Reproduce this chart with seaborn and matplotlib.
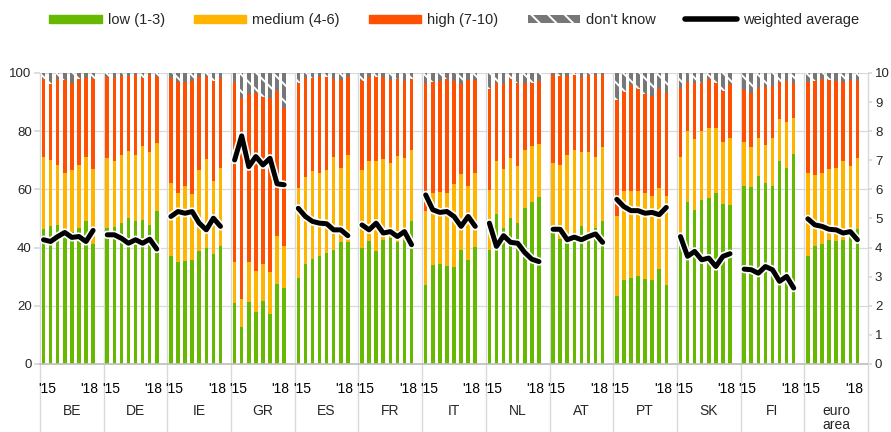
import numpy as np
import pandas as pd
import matplotlib
matplotlib.use("Agg")
import matplotlib.pyplot as plt
import matplotlib.patheffects as pe
from matplotlib.patches import Patch
from matplotlib.lines import Line2D
import seaborn as sns

sns.set_theme(style="white")
plt.rcParams['font.family'] = ['Liberation Sans', 'DejaVu Sans']
plt.rcParams['hatch.linewidth'] = 1.4
FS = 9.5

# data: semi-annual 2015H1 .. 2018H2, shares in % (cumulative tops) and weighted average (0-10)
countries = ['BE', 'DE', 'IE', 'GR', 'ES', 'FR', 'IT', 'NL', 'AT', 'PT', 'SK', 'FI', 'euro\narea']
periods = ['15H1', '15H2', '16H1', '16H2', '17H1', '17H2', '18H1', '18H2']

low = [
    [46.3, 47.3, 47.6, 45.5, 45.4, 46.9, 49.0, 41.2],
    [46.7, 47.0, 48.4, 50.0, 49.3, 49.5, 47.6, 52.7],
    [37.0, 35.0, 35.5, 35.6, 39.0, 40.0, 37.8, 40.7],
    [20.9, 12.7, 21.2, 17.8, 21.8, 17.3, 27.5, 26.0],
    [29.5, 34.4, 36.2, 37.0, 38.1, 39.2, 41.8, 41.9],
    [40.0, 42.1, 39.0, 42.7, 43.2, 41.8, 42.7, 49.3],
    [27.2, 33.9, 34.3, 33.8, 33.3, 39.2, 35.6, 40.2],
    [39.2, 51.4, 46.6, 50.0, 48.4, 53.5, 55.7, 57.3],
    [45.2, 43.0, 44.2, 43.6, 47.3, 45.0, 46.7, 49.0],
    [23.5, 28.7, 29.7, 30.4, 29.3, 28.7, 32.6, 27.2],
    [44.4, 55.5, 53.0, 56.4, 56.9, 58.7, 55.0, 54.7],
    [61.3, 60.8, 64.6, 62.1, 61.0, 69.8, 67.3, 72.2],
    [37.2, 40.7, 41.2, 42.7, 42.3, 42.7, 44.0, 46.5],
]
# low + medium
low_medium = [
    [71.1, 70.0, 68.5, 65.8, 66.7, 68.4, 71.2, 67.0],
    [70.7, 69.6, 71.9, 73.3, 71.9, 74.9, 73.0, 76.1],
    [62.1, 58.9, 61.0, 58.4, 66.7, 70.4, 63.0, 67.5],
    [35.2, 22.3, 35.2, 31.8, 34.4, 31.5, 44.1, 40.6],
    [60.6, 64.4, 66.4, 65.6, 66.7, 71.3, 67.5, 71.9],
    [66.7, 69.9, 69.8, 70.4, 69.0, 71.5, 70.7, 73.6],
    [52.6, 58.9, 59.2, 58.9, 61.9, 65.2, 61.2, 65.6],
    [59.8, 69.6, 66.9, 70.7, 68.1, 73.6, 74.9, 75.6],
    [69.2, 68.4, 71.9, 73.6, 73.0, 72.7, 71.3, 74.5],
    [50.9, 59.6, 59.6, 59.6, 58.9, 57.6, 60.4, 57.6],
    [71.3, 79.9, 77.3, 80.1, 81.0, 81.0, 76.4, 77.6],
    [76.2, 74.7, 77.6, 75.3, 77.6, 84.2, 83.3, 84.7],
    [65.8, 65.0, 65.8, 66.9, 67.3, 69.8, 68.1, 70.9],
]
# low + medium + high (rest up to 100 = don't know)
answered = [
    [97.9, 96.1, 98.1, 97.7, 96.5, 97.8, 98.2, 98.1],
    [98.7, 98.2, 99.1, 99.1, 99.3, 98.2, 99.3, 98.7],
    [98.2, 96.8, 97.0, 97.3, 98.5, 98.7, 97.4, 98.2],
    [97.0, 91.5, 92.7, 93.2, 91.6, 91.3, 93.8, 87.9],
    [96.5, 98.2, 98.4, 99.0, 98.5, 97.9, 97.6, 98.5],
    [97.4, 98.7, 98.7, 98.5, 97.6, 97.9, 97.4, 97.9],
    [96.7, 97.0, 97.4, 97.8, 97.4, 96.2, 97.6, 97.6],
    [94.5, 96.7, 96.2, 97.8, 96.7, 96.7, 96.7, 97.4],
    [99.3, 99.1, 99.1, 99.3, 98.5, 99.3, 99.3, 99.3],
    [90.7, 93.6, 95.9, 94.5, 92.7, 92.2, 94.4, 93.0],
    [94.7, 97.0, 96.5, 96.7, 97.9, 96.5, 93.8, 96.2],
    [94.2, 93.0, 94.7, 95.3, 95.5, 97.0, 97.3, 96.7],
    [97.0, 97.4, 97.8, 97.6, 97.4, 97.0, 97.6, 97.4],
]
weighted_avg = [
    [4.27, 4.21, 4.38, 4.52, 4.35, 4.38, 4.21, 4.59],
    [4.44, 4.44, 4.32, 4.15, 4.27, 4.15, 4.29, 3.95],
    [5.07, 5.24, 5.18, 5.24, 4.84, 4.61, 5.01, 4.73],
    [7.01, 7.84, 6.78, 7.13, 6.84, 7.07, 6.19, 6.16],
    [5.35, 5.07, 4.90, 4.84, 4.82, 4.61, 4.61, 4.41],
    [4.78, 4.61, 4.84, 4.50, 4.55, 4.38, 4.55, 4.10],
    [5.81, 5.30, 5.21, 5.24, 5.07, 4.73, 5.07, 4.73],
    [4.84, 4.04, 4.41, 4.18, 4.15, 3.83, 3.60, 3.52],
    [4.63, 4.63, 4.27, 4.36, 4.27, 4.38, 4.47, 4.18],
    [5.66, 5.41, 5.27, 5.27, 5.18, 5.21, 5.13, 5.38],
    [4.38, 3.70, 3.87, 3.58, 3.64, 3.35, 3.70, 3.79],
    [3.26, 3.24, 3.12, 3.35, 3.24, 2.84, 3.01, 2.61],
    [4.99, 4.78, 4.73, 4.63, 4.61, 4.50, 4.55, 4.27],
]

c_low = '#66b800'
c_med = '#ffb400'
c_high = '#ff4f00'
c_dk = '#777777'
c_grid = '#d9d9d9'

# long table, 9 slots per country (8 bars + gap)
gap = 9
rows = []
for g, c in enumerate(countries):
    for i, p in enumerate(periods):
        rows.append({'country': c, 'period': p, 'pos': g * gap + i,
                     'low': low[g][i], 'low_med': low_medium[g][i],
                     'answered': answered[g][i], 'total': 100.0,
                     'avg': weighted_avg[g][i]})
df = pd.DataFrame(rows)

fig = plt.figure(figsize=(8.91, 4.32), dpi=100)
ax = fig.add_axes([40 / 891, 1 - 364 / 432, 828 / 891, 291 / 432])

bw = 0.5
sns.barplot(data=df, x='pos', y='total', native_scale=True, width=bw, color=c_dk,
            edgecolor='white', hatch='\\\\', linewidth=0, saturation=1, errorbar=None, ax=ax)
sns.barplot(data=df, x='pos', y='answered', native_scale=True, width=bw, color=c_high,
            linewidth=0, saturation=1, errorbar=None, ax=ax)
sns.barplot(data=df, x='pos', y='low_med', native_scale=True, width=bw, color=c_med,
            linewidth=0, saturation=1, errorbar=None, ax=ax)
sns.barplot(data=df, x='pos', y='low', native_scale=True, width=bw, color=c_low,
            linewidth=0, saturation=1, errorbar=None, ax=ax)

xmin, xmax = -0.5, len(countries) * gap - 0.5
ax.set_xlim(xmin, xmax)
ax.set_ylim(0, 100)
ax.set_yticks(np.arange(0, 101, 20))
ax.yaxis.grid(True, color=c_grid, lw=0.9)
ax.set_axisbelow(True)
for s in ['top', 'left', 'right']:
    ax.spines[s].set_visible(False)
ax.spines['bottom'].set_color('#bfbfbf')
ax.set_xlabel('')
ax.set_ylabel('')

# year ticks ('15 over the first pair, '18 over the last pair)
tpos, tlab = [], []
for g in range(len(countries)):
    tpos += [g * gap + 0.5, g * gap + 6.5]
    tlab += ["'15", "'18"]
ax.set_xticks(tpos)
ax.set_xticklabels(tlab, fontsize=FS + 0.5, color='#000000')
ax.tick_params(axis='x', length=0, pad=13)
ax.tick_params(axis='y', labelsize=FS, length=4, color=c_grid, pad=2, left=True)

# country labels and separators
for g, c in enumerate(countries):
    ax.text(g * gap + 4, -0.136, c, transform=ax.get_xaxis_transform(), ha='center',
            va='top', fontsize=FS + 0.5, linespacing=1.0)
for g in range(len(countries) + 1):
    ax.plot([g * gap - 0.5, g * gap - 0.5], [1, -0.24], transform=ax.get_xaxis_transform(),
            color=c_grid, lw=1, clip_on=False, zorder=0.5)

ax2 = ax.twinx()
sns.lineplot(data=df, x='pos', y='avg', units='country', estimator=None, color='black',
             linewidth=3.6, ax=ax2, legend=False,
             path_effects=[pe.Stroke(linewidth=6, foreground='white'), pe.Normal()])
ax2.set_ylim(0, 10)
ax2.set_yticks(np.arange(0, 11, 1))
ax2.tick_params(axis='y', labelsize=FS, length=3, color=c_grid, pad=2, right=True)
ax2.set_ylabel('')
ax2.set_xlim(xmin, xmax)
for s in ax2.spines.values():
    s.set_visible(False)

handles = [Patch(color=c_low), Patch(color=c_med), Patch(color=c_high),
           Patch(facecolor=c_dk, edgecolor='white', hatch='\\\\', linewidth=0),
           Line2D([0], [0], color='black', lw=4)]
labels = ['low (1-3)', 'medium (4-6)', 'high (7-10)', "don't know", 'weighted average']
fig.legend(handles, labels, loc='center', bbox_to_anchor=(0.51, 0.954), ncol=5,
           frameon=False, fontsize=FS + 1, handlelength=3.6, handleheight=0.5,
           handletextpad=0.4, columnspacing=2.0)

fig.savefig('out.png', dpi=100)
